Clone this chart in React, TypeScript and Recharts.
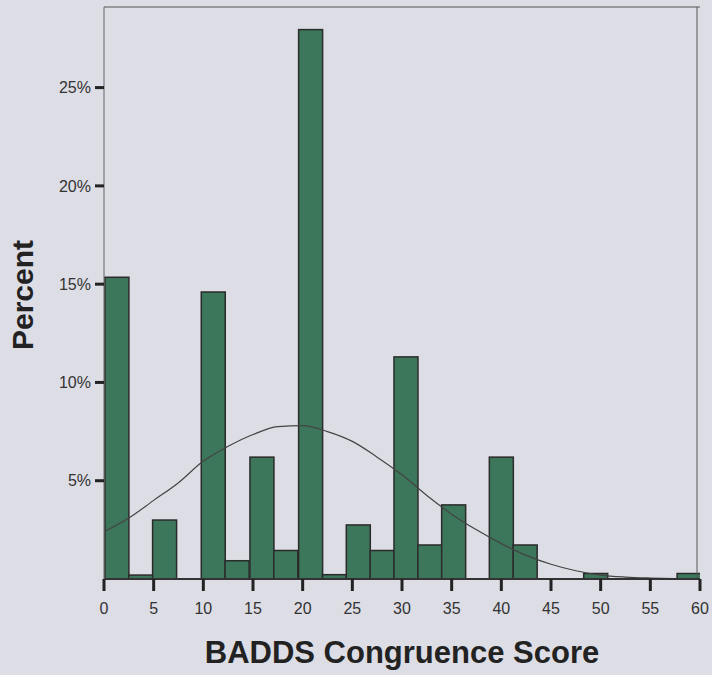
import React from 'react';
import { ComposedChart, Bar, Line, XAxis, YAxis, ReferenceLine } from 'recharts';

// histogram bins: centre of each bin on the score axis, and percent of cases
const binMid = [1.3, 3.7, 6.1, 8.6, 11.0, 13.4, 15.9, 18.3, 20.8, 23.2, 25.6, 28.0, 30.4,
    32.8, 35.2, 37.6, 40.0, 42.4, 44.8, 47.2, 49.5, 51.9, 54.2, 56.6, 58.9];
const binPct = [15.35, 0.2, 3.0, 0, 14.6, 0.93, 6.2, 1.45, 27.95, 0.22, 2.75, 1.45, 11.3,
    1.73, 3.77, 0, 6.2, 1.73, 0, 0, 0.28, 0, 0, 0, 0.28];

// fitted normal curve
const curveX = [0, 2.5, 5, 7.5, 10, 12.5, 15, 17.5, 20, 22.5, 25, 27.5, 30, 32.5, 35,
    37.5, 40, 42.5, 45, 47.5, 50, 52.5, 55, 57.5, 60];
const curvePct = [2.4, 3.1, 4.0, 4.9, 6.0, 6.75, 7.35, 7.75, 7.8, 7.5, 7.0, 6.2, 5.3, 4.25,
    3.3, 2.5, 1.8, 1.2, 0.75, 0.42, 0.2, 0.1, 0.05, 0.02, 0.01];

const xTicks = [0, 5, 10, 15, 20, 25, 30, 35, 40, 45, 50, 55, 60];
const yTicks = [5, 10, 15, 20, 25];
const yMax = 29.1;

const bins = binMid.map((x, i) => ({ x, pct: binPct[i] }));
const curve = curveX.map((x, i) => ({ x, pct: curvePct[i] }));

const font = '"Liberation Sans", Arial, sans-serif';
const BIN_PX = 24;

// recharts squeezes bars on a number axis, so widen each one around its centre
const BinRect = (props: any) => {
    const { x, y, width, height } = props;
    if (!height || height <= 0) return null;
    const cx = x + width / 2;
    return (
        <rect
            x={cx - BIN_PX / 2}
            y={y}
            width={BIN_PX}
            height={height}
            fill="#3c765b"
            stroke="#2b2b2b"
            strokeWidth={1.5}
        />
    );
};

const App = () => {
    return (
        <div style={{ position: 'fixed', left: 0, top: 0, width: 712, height: 675, background: '#dddde5' }}>
            <ComposedChart
                width={712}
                height={675}
                data={bins}
                margin={{ top: 7, right: 12, left: 0, bottom: 0 }}
                barGap={0}
            >
                <XAxis
                    type="number"
                    dataKey="x"
                    domain={[0, 60]}
                    ticks={xTicks}
                    interval={0}
                    allowDataOverflow
                    height={96}
                    axisLine={{ stroke: '#333', strokeWidth: 2 }}
                    tickLine={{ stroke: '#222', strokeWidth: 3 }}
                    tickSize={12}
                    tickMargin={12}
                    tick={{ fill: '#333', fontSize: 16, fontFamily: font }}
                    label={{
                        value: 'BADDS Congruence Score',
                        position: 'insideBottom',
                        offset: 12,
                        style: { fill: '#222', fontSize: 31, fontWeight: 'bold', fontFamily: font },
                    }}
                />
                <YAxis
                    type="number"
                    domain={[0, yMax]}
                    ticks={yTicks}
                    interval={0}
                    width={104}
                    axisLine={{ stroke: '#666', strokeWidth: 1 }}
                    tickLine={{ stroke: '#222', strokeWidth: 3 }}
                    tickSize={9}
                    tickMargin={4}
                    tickFormatter={(v) => `${v}%`}
                    tick={{ fill: '#333', fontSize: 16, fontFamily: font }}
                    label={{
                        content: () => (
                            <text
                                x={33}
                                y={295}
                                transform="rotate(-90 33 295)"
                                textAnchor="middle"
                                fill="#222"
                                fontSize={30}
                                fontWeight="bold"
                                fontFamily={font}
                            >Percent</text>
                        ),
                    }}
                />
                <ReferenceLine y={yMax} stroke="#555" strokeWidth={1} />
                <ReferenceLine x={59.7} stroke="#555" strokeWidth={1} />
                <Bar
                    dataKey="pct"
                    shape={BinRect}
                    isAnimationActive={false}
                />
                <Line
                    data={curve}
                    dataKey="pct"
                    type="monotone"
                    stroke="#444"
                    strokeWidth={1.2}
                    dot={false}
                    activeDot={false}
                    isAnimationActive={false}
                />
            </ComposedChart>
        </div>
    );
};

export default App;
